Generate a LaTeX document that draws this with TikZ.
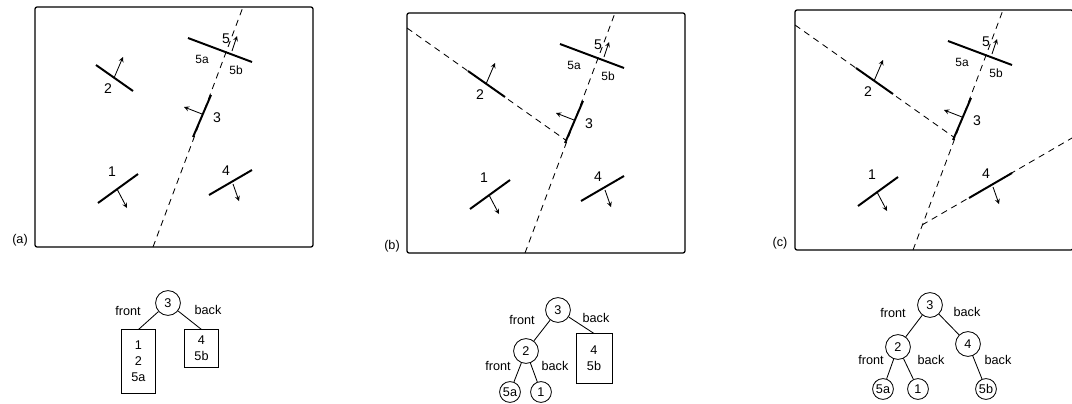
\documentclass[tikz,border=0pt]{standalone}
\usepackage{fontspec}
\setmainfont{Liberation Sans}

\begin{document}
\begin{tikzpicture}[x=0.025cm, y=-0.025cm, >=stealth, font=\fontsize{9}{11}\selectfont]
	\tikzset{
		panel/.style={line width=0.9pt, rounded corners=1.5pt},
		wall/.style={line width=1.4pt},
		facing/.style={->, line width=0.6pt},
		splitline/.style={line width=0.6pt, dash pattern=on 4.5pt off 3.5pt},
		digit/.style={font=\fontsize{10}{12}\selectfont, inner sep=1pt},
		small/.style={font=\fontsize{8.5}{10}\selectfont, inner sep=1pt},
		bsp/.style={circle, draw, line width=0.6pt, minimum size=0.62cm, inner sep=0pt},
		bspleaf/.style={circle, draw, line width=0.6pt, minimum size=0.52cm, inner sep=0pt},
		leafbox/.style={draw, line width=0.6pt, align=center, inner sep=0pt, minimum width=0.85cm, font=\fontsize{9}{11.5}\selectfont},
		edge/.style={line width=0.6pt}
	}
	\useasboundingbox (0,0) rectangle (1072,403);
	% the three scenes
	\foreach \ox/\oy/\lab in {35/7/a, 407/13/b, 795/10/c}{
		\begin{scope}[shift={(\ox,\oy)}]
			\draw[panel] (0,0) rectangle (278,240);
			\node (tag\lab) at (-15,233) {(\lab)};
			\draw[splitline] (118,240) -- (208,0);
			% wall 3
			\draw[wall] (158,130) -- (176,88);
			\draw[facing] (167,107) -- (149,100);
			\node[digit] (w3\lab) at (182,111) {3};
			% wall 5
			\draw[wall] (153,31) -- (217,55);
			\draw[facing] (197,44) -- (202,29);
			\node[digit] (w5\lab) at (191,32) {5};
			\node[small] (w5a\lab) at (167,52) {5a};
			\node[small] (w5b\lab) at (201,63) {5b};
			% wall 2
			\draw[wall] (61,58) -- (98,84);
			\draw[facing] (79,71) -- (88,50);
			\node[digit] (w2\lab) at (73,82) {2};
			% wall 1
			\draw[wall] (63,196) -- (103,167);
			\draw[facing] (82,182) -- (92,201);
			\node[digit] (w1\lab) at (77,165) {1};
			% wall 4
			\draw[wall] (174,188) -- (217,163);
			\draw[facing] (198,177) -- (204,194);
			\node[digit] (w4\lab) at (191,164) {4};
		\end{scope}
	}
	% extra splitting planes
	\draw[splitline, shift={(407,13)}] (0,15) -- (160,128);
	\draw[splitline, shift={(795,10)}] (0,15) -- (160,128);
	\draw[splitline, shift={(795,10)}] (127,215) -- (277,128);

	% tree (a)
	\node[bsp] (a3) at (168,303) {3};
	\node[leafbox, minimum height=1.58cm] (afront) at (138.5,361.5) {1\\2\\5a};
	\node[leafbox, minimum height=0.93cm] (aback) at (201.5,348.5) {4\\5b};
	\draw[edge] (a3) -- (afront.north);
	\draw[edge] (a3) -- (aback.north);
	\node (afl) at (128,311) {front};
	\node (abl) at (208,310) {back};

	% tree (b)
	\node[bsp] (b3) at (558,310) {3};
	\node[bsp] (b2) at (526,351) {2};
	\node[leafbox, minimum height=1.23cm, minimum width=0.9cm] (bback) at (594,358.5) {4\\5b};
	\node[bspleaf] (b5a) at (510,392) {5a};
	\node[bspleaf] (b1) at (541,392) {1};
	\draw[edge] (b3) -- (b2);
	\draw[edge] (b3) -- (bback.north);
	\draw[edge] (b2) -- (b5a);
	\draw[edge] (b2) -- (b1);
	\node (bfl) at (522,320) {front};
	\node (bbl) at (596,318) {back};
	\node (bfl2) at (498,366) {front};
	\node (bbl2) at (555,366) {back};

	% tree (c)
	\node[bsp] (c3) at (930,305) {3};
	\node[bsp] (c2) at (898,347) {2};
	\node[bsp] (c4) at (968,344) {4};
	\node[bspleaf] (c5a) at (883,389) {5a};
	\node[bspleaf] (c1) at (918,389) {1};
	\node[bspleaf] (c5b) at (986,389) {5b};
	\draw[edge] (c3) -- (c2);
	\draw[edge] (c3) -- (c4);
	\draw[edge] (c2) -- (c5a);
	\draw[edge] (c2) -- (c1);
	\draw[edge] (c4) -- (c5b);
	\node (cfl) at (893,313) {front};
	\node (cbl) at (967,312) {back};
	\node (cfl2) at (871,360) {front};
	\node (cbl2) at (931,360) {back};
	\node (cbl3) at (998,360) {back};
\end{tikzpicture}
\end{document}
